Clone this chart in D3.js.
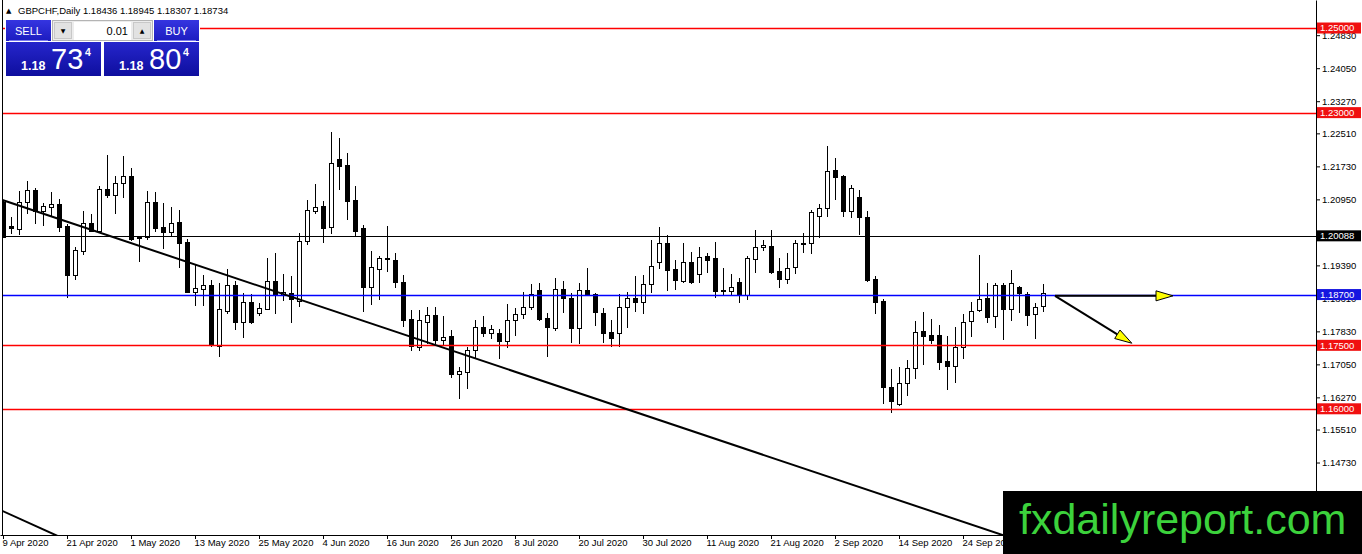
<!DOCTYPE html>
<html><head><meta charset="utf-8">
<script src="https://cdn.jsdelivr.net/npm/d3@7"></script>
<style>html,body{margin:0;padding:0;background:#fff;overflow:hidden}</style>
</head><body>
<svg id="c" width="1362" height="554"></svg>
<script>
// ---------------- DATA ----------------
const symbolTitle = "GBPCHF,Daily";
const lastOHLC = ["1.18436", "1.18945", "1.18307", "1.18734"];

const open = [1.2089,1.2032,1.2024,1.2088,1.2117,1.2068,1.2078,1.2084,1.2032,1.1917,
1.1974,1.2038,1.2021,1.2119,1.2106,1.2133,1.2150,1.2006,1.2005,1.2088,
1.2029,1.2019,1.2041,1.1994,1.1877,1.1882,1.1893,1.1749,1.1831,1.1893,
1.1804,1.1852,1.1826,1.1837,1.1901,1.1870,1.1874,1.1854,1.1996,1.2068,
1.2079,1.2029,1.2190,1.2176,1.2094,1.2028,1.1889,1.1930,1.1957,1.1952,
1.1900,1.1812,1.1747,1.1806,1.1822,1.1763,1.1772,1.1682,1.1688,1.1739,
1.1793,1.1778,1.1778,1.1761,1.1811,1.1823,1.1841,1.1881,1.1814,1.1792,
1.1882,1.1861,1.1792,1.1881,1.1871,1.1826,1.1781,1.1780,1.1841,1.1861,
1.1852,1.1894,1.1947,1.1991,1.1930,1.1903,1.1947,1.1918,1.1961,1.1956,
1.1881,1.1879,1.1900,1.1869,1.1955,1.1982,1.1985,1.1926,1.1906,1.1934,
1.1990,1.1991,1.2056,1.2074,1.2164,1.2150,1.2068,1.2101,1.2053,1.1906,
1.1855,1.1651,1.1611,1.1660,1.1696,1.1784,1.1775,1.1775,1.1713,1.1702,
1.1747,1.1807,1.1833,1.1861,1.1820,1.1892,1.1835,1.1888,1.1871,1.1823,
1.18436];
const high = [1.2093,1.2053,1.2115,1.2138,1.2122,1.2086,1.2112,1.2095,1.2037,1.1982,
1.2067,1.2060,1.2127,1.2201,1.2150,1.2198,1.2169,1.2009,1.2115,1.2112,
1.2086,1.2076,1.2070,1.2001,1.1940,1.1916,1.1904,1.1897,1.1930,1.1903,
1.1873,1.1871,1.1851,1.1956,1.1968,1.1919,1.1915,1.2016,1.2093,1.2131,
1.2091,1.2254,1.2240,1.2204,1.2127,1.2034,1.1973,1.1961,1.2032,1.1968,
1.1916,1.1834,1.1834,1.1841,1.1841,1.1819,1.1786,1.1699,1.1747,1.1810,
1.1819,1.1798,1.1788,1.1847,1.1838,1.1877,1.1895,1.1898,1.1826,1.1908,
1.1902,1.1873,1.1897,1.1932,1.1873,1.1838,1.1811,1.1871,1.1877,1.1914,
1.1916,1.1999,1.2029,1.2011,1.1952,1.1993,1.1970,1.1982,1.1968,1.1994,
1.1932,1.1919,1.1908,1.1961,1.2023,1.1999,1.2023,1.1956,1.1968,1.1999,
1.2015,1.2070,1.2084,1.2220,1.2192,1.2153,1.2129,1.2117,1.2067,1.1914,
1.1859,1.1693,1.1698,1.1715,1.1807,1.1829,1.1812,1.1798,1.1771,1.1793,
1.1824,1.1853,1.1964,1.1897,1.1898,1.1898,1.1928,1.1890,1.1877,1.1851,
1.18945];
const low = [1.2006,1.2016,1.2012,1.2062,1.2040,1.2035,1.2058,1.2021,1.1865,1.1906,
1.1966,1.2020,1.2020,1.2100,1.2063,1.2101,1.1999,1.1950,1.2002,1.2021,
1.1981,1.2008,1.1936,1.1875,1.1845,1.1845,1.1748,1.1725,1.1827,1.1789,
1.1769,1.1803,1.1822,1.1835,1.1827,1.1857,1.1806,1.1843,1.1989,1.2063,
1.1995,1.2015,1.2120,1.2048,1.2008,1.1832,1.1848,1.1859,1.1926,1.1887,
1.1796,1.1739,1.1739,1.1756,1.1756,1.1753,1.1676,1.1625,1.1650,1.1719,
1.1772,1.1767,1.1721,1.1745,1.1774,1.1814,1.1835,1.1810,1.1725,1.1786,
1.1829,1.1759,1.1755,1.1869,1.1798,1.1759,1.1748,1.1748,1.1793,1.1831,
1.1826,1.1877,1.1932,1.1881,1.1882,1.1900,1.1898,1.1900,1.1924,1.1865,
1.1869,1.1869,1.1852,1.1859,1.1924,1.1975,1.1922,1.1887,1.1898,1.1922,
1.1971,1.1969,1.2005,1.2056,1.2097,1.2056,1.2053,1.2013,1.1903,1.1826,
1.1613,1.1593,1.1608,1.1633,1.1672,1.1707,1.1755,1.1694,1.1647,1.1664,
1.1719,1.1773,1.1832,1.1805,1.1793,1.1765,1.1811,1.1829,1.1797,1.1768,
1.18307];
const close = [1.2007,1.2027,1.2088,1.2117,1.2068,1.2079,1.2084,1.2030,1.1917,1.1975,
1.2038,1.2021,1.2119,1.2106,1.2133,1.2150,1.2001,1.2004,1.2088,1.2028,
1.2019,1.2038,1.1993,1.1876,1.1885,1.1892,1.1751,1.1835,1.1892,1.1804,
1.1852,1.1805,1.1838,1.1901,1.1871,1.1876,1.1859,1.1996,1.2070,1.2076,
1.2028,1.2182,1.2175,1.2092,1.2021,1.1889,1.1936,1.1957,1.1953,1.1900,
1.1810,1.1748,1.1810,1.1822,1.1763,1.1769,1.1682,1.1690,1.1739,1.1793,
1.1778,1.1788,1.1761,1.1811,1.1823,1.1841,1.1871,1.1813,1.1794,1.1882,
1.1863,1.1790,1.1881,1.1871,1.1828,1.1780,1.1768,1.1841,1.1861,1.1852,
1.1894,1.1937,1.1991,1.1928,1.1904,1.1947,1.1899,1.1959,1.1952,1.1879,
1.1878,1.1887,1.1869,1.1956,1.1982,1.1987,1.1923,1.1906,1.1932,1.1991,
1.1992,1.2064,1.2074,1.2163,1.2149,1.2068,1.2121,1.2053,1.1904,1.1853,
1.1651,1.1619,1.1660,1.1696,1.1782,1.1773,1.1763,1.1711,1.1702,1.1747,
1.1804,1.1831,1.1859,1.1818,1.1892,1.1835,1.1897,1.1873,1.1821,1.1841,
1.18734];

const dateLabels = ["9 Apr 2020","21 Apr 2020","1 May 2020","13 May 2020","25 May 2020",
  "4 Jun 2020","16 Jun 2020","26 Jun 2020","8 Jul 2020","20 Jul 2020","30 Jul 2020",
  "11 Aug 2020","21 Aug 2020","2 Sep 2020","14 Sep 2020","24 Sep 2020"];
const barsPerDateLabel = 8;

const priceTicks = [1.2483,1.2405,1.2327,1.2251,1.2173,1.2095,1.1939,1.1861,1.1783,1.1705,1.1627,1.1551,1.1473];

const levelPrices = [1.25, 1.23, 1.20088, 1.187, 1.175, 1.16];
const levelColors = ["#ff0000","#ff0000","#000000","#0000ff","#ff0000","#ff0000"];
const levelBoxColors = ["#f01010","#f01010","#000000","#1515e0","#f01010","#f01010"];

// trend lines: [barIndex, price] anchors
const trendMain = [[0, 1.2093], [120, 1.1333]];
const trendLower = [[0, 1.1358], [7, 1.1298]];
// arrows: start / end in [barIndex, price]
const arrowStart = [131.5, 1.1867];
const arrowEnds = [[146.25, 1.1867], [141.1, 1.1755]];

const sellQuote = ["1.18", "73", "4"];
const buyQuote = ["1.18", "80", "4"];
const lotSize = "0.01";
const watermark = "fxdailyreport.com";

// ---------------- CHART ----------------
const svg = d3.select("#c");
const W = 1362, H = 554, plotR = 1316, plotB = 535;
const x = d3.scaleLinear().domain([-0.375, 164.125]).range([0, plotR]);
const y = d3.scaleLinear().domain([1.13017, 1.25662]).range([plotB, 0]);

svg.append("rect").attr("width", W).attr("height", H).attr("fill", "#fff");
const defs = svg.append("defs");
defs.append("clipPath").attr("id", "plot").append("rect")
  .attr("x", 2).attr("y", 0).attr("width", plotR - 2).attr("height", plotB);

const plot = svg.append("g").attr("clip-path", "url(#plot)");

// candles
const bars = open.map((o, i) => ({i, o, h: high[i], l: low[i], c: close[i]}));
const cg = plot.append("g").attr("shape-rendering", "crispEdges");
bars.forEach(b => {
  const cx = Math.round(x(b.i));
  const yh = Math.round(y(b.h)), yl = Math.round(y(b.l));
  const yt = Math.round(y(Math.max(b.o, b.c))), yb = Math.round(y(Math.min(b.o, b.c)));
  const bull = b.c >= b.o;
  cg.append("line").attr("x1", cx + 0.5).attr("x2", cx + 0.5)
    .attr("y1", yh).attr("y2", yl + 1).attr("stroke", "#000").attr("stroke-width", 1);
  if (yb - yt < 1) {
    cg.append("line").attr("x1", cx - 2).attr("x2", cx + 3)
      .attr("y1", yt + 0.5).attr("y2", yt + 0.5).attr("stroke", "#000");
  } else {
    cg.append("rect").attr("x", cx - 1.5).attr("y", yt + 0.5)
      .attr("width", 4).attr("height", yb - yt)
      .attr("fill", bull ? "#fff" : "#000").attr("stroke", "#000").attr("stroke-width", 1);
  }
});

// horizontal levels
levelPrices.forEach((p, k) => {
  const yy = Math.round(y(p)) + 0.5;
  plot.append("line").attr("x1", 2).attr("x2", plotR).attr("y1", yy).attr("y2", yy)
    .attr("stroke", levelColors[k]).attr("stroke-width", levelColors[k] === "#000000" ? 1 : 1.6);
});

// trend lines (extended across the plot)
function drawTrend(a) {
  const slope = (a[1][1] - a[0][1]) / (a[1][0] - a[0][0]);
  const i0 = x.domain()[0], i1 = x.domain()[1];
  const p0 = a[0][1] + slope * (i0 - a[0][0]);
  const p1 = a[0][1] + slope * (i1 - a[0][0]);
  plot.append("line").attr("x1", x(i0)).attr("y1", y(p0)).attr("x2", x(i1)).attr("y2", y(p1))
    .attr("stroke", "#000").attr("stroke-width", 2);
}
drawTrend(trendMain);
drawTrend(trendLower);

// arrows
arrowEnds.forEach(e => {
  const x0 = x(arrowStart[0]), y0 = y(arrowStart[1]);
  const x1 = x(e[0]), y1 = y(e[1]);
  const ang = Math.atan2(y1 - y0, x1 - x0);
  const len = 17, hw = 5;
  const bx = x1 - len * Math.cos(ang), by = y1 - len * Math.sin(ang);
  plot.append("line").attr("x1", x0).attr("y1", y0).attr("x2", bx).attr("y2", by)
    .attr("stroke", "#000").attr("stroke-width", 2);
  const px = -Math.sin(ang) * hw, py = Math.cos(ang) * hw;
  plot.append("polygon")
    .attr("points", [[x1, y1], [bx + px, by + py], [bx - px, by - py]].map(d => d.join(",")).join(" "))
    .attr("fill", "#ffff00").attr("stroke", "#000").attr("stroke-width", 1);
});

// frame
svg.append("line").attr("x1", 2.5).attr("x2", 2.5).attr("y1", 0).attr("y2", plotB)
  .attr("stroke", "#000").attr("shape-rendering", "crispEdges");

// bottom axis
const tickIdx = dateLabels.map((d, k) => k * barsPerDateLabel);
const xAxis = d3.axisBottom(x).tickValues(tickIdx)
  .tickFormat((d, k) => dateLabels[k]).tickSize(4).tickSizeOuter(0);
const gx = svg.append("g").attr("transform", `translate(0,${plotB})`).call(xAxis);
gx.select(".domain").attr("stroke", "#000");
gx.selectAll(".tick line").attr("stroke", "#000");
gx.selectAll(".tick text").attr("text-anchor", "start").attr("x", -1).attr("y", 4).attr("dy", "0.71em")
  .attr("fill", "#000").style("font", "9.5px 'Liberation Sans', Arial, sans-serif");

// right axis
const yAxis = d3.axisRight(y).tickValues(priceTicks).tickFormat(d3.format(".5f"))
  .tickSize(4).tickSizeOuter(0);
const gy = svg.append("g").attr("transform", `translate(${plotR},0)`).call(yAxis);
gy.select(".domain").attr("stroke", "#000");
gy.selectAll(".tick line").attr("stroke", "#000");
gy.selectAll(".tick text").attr("x", 6).attr("fill", "#000")
  .style("font", "9.5px 'Liberation Sans', Arial, sans-serif");

// level price boxes
levelPrices.forEach((p, k) => {
  const yy = y(p);
  svg.append("rect").attr("x", plotR + 1).attr("y", yy - 5.5).attr("width", 44).attr("height", 11)
    .attr("fill", levelBoxColors[k]);
  svg.append("text").attr("x", plotR + 4).attr("y", yy).attr("dy", "0.35em")
    .attr("fill", "#fff").style("font", "9.5px 'Liberation Sans', Arial, sans-serif")
    .text(d3.format(".5f")(p));
});

// header
svg.append("text").attr("x", 6).attr("y", 13).attr("fill", "#000")
  .style("font", "7px 'DejaVu Sans', sans-serif").text("▲");
svg.append("text").attr("x", 18).attr("y", 14).attr("fill", "#000")
  .style("font", "9.5px 'Liberation Sans', Arial, sans-serif")
  .text(symbolTitle + "  " + lastOHLC.join(" "));

// one-click trading panel
const g1 = defs.append("linearGradient").attr("id", "btn").attr("x1", 0).attr("x2", 0).attr("y1", 0).attr("y2", 1);
g1.append("stop").attr("offset", 0).attr("stop-color", "#3535e0");
g1.append("stop").attr("offset", 1).attr("stop-color", "#1c1cc0");
const g2 = defs.append("linearGradient").attr("id", "pan").attr("x1", 0).attr("x2", 0).attr("y1", 0).attr("y2", 1);
g2.append("stop").attr("offset", 0).attr("stop-color", "#2626cc");
g2.append("stop").attr("offset", 1).attr("stop-color", "#0e0e9e");

const panel = svg.append("g").attr("shape-rendering", "crispEdges");
const fnt = "'Liberation Sans', Arial, sans-serif";
panel.append("rect").attr("x", 5).attr("y", 19).attr("width", 195).attr("height", 58).attr("fill", "#fff");
function btn(x0, label) {
  panel.append("rect").attr("x", x0).attr("y", 20).attr("width", 45).attr("height", 21).attr("fill", "url(#btn)");
  panel.append("line").attr("x1", x0 + 3).attr("x2", x0 + 42).attr("y1", 40.5).attr("y2", 40.5).attr("stroke", "#7a7af0");
  svg.append("text").attr("x", x0 + 22.5).attr("y", 35).attr("text-anchor", "middle").attr("fill", "#fff")
    .style("font", `11px ${fnt}`).text(label);
}
btn(6, "SELL");
btn(154, "BUY");
panel.append("rect").attr("x", 52.5).attr("y", 20.5).attr("width", 100).attr("height", 20)
  .attr("fill", "#ececec").attr("stroke", "#b4b4b4");
panel.append("rect").attr("x", 54.5).attr("y", 22.5).attr("width", 17).attr("height", 16)
  .attr("fill", "#e2e2e2").attr("stroke", "#c8c8c8");
panel.append("rect").attr("x", 73.5).attr("y", 21.5).attr("width", 57).attr("height", 18)
  .attr("fill", "#fff");
panel.append("rect").attr("x", 133.5).attr("y", 22.5).attr("width", 17).attr("height", 16)
  .attr("fill", "#e2e2e2").attr("stroke", "#c8c8c8");
svg.append("text").attr("x", 63).attr("y", 33).attr("text-anchor", "middle").style("font", "6px 'DejaVu Sans'").text("▼");
svg.append("text").attr("x", 142).attr("y", 33).attr("text-anchor", "middle").style("font", "6px 'DejaVu Sans'").text("▲");
svg.append("text").attr("x", 128).attr("y", 35).attr("text-anchor", "end").attr("fill", "#000")
  .style("font", `11px ${fnt}`).text(lotSize);

function quote(x0, q) {
  panel.append("rect").attr("x", x0).attr("y", 42).attr("width", 95).attr("height", 34).attr("fill", "url(#pan)");
  svg.append("text").attr("x", x0 + 15).attr("y", 70).attr("fill", "#fff")
    .style("font", `bold 12.5px ${fnt}`).text(q[0]);
  svg.append("text").attr("x", x0 + 45).attr("y", 68.5).attr("fill", "#fff")
    .style("font", `29px ${fnt}`).text(q[1]);
  svg.append("text").attr("x", x0 + 79).attr("y", 56).attr("fill", "#fff")
    .style("font", `bold 10.5px ${fnt}`).text(q[2]);
}
quote(6, sellQuote);
quote(104, buyQuote);

// watermark
svg.append("rect").attr("x", 1003).attr("y", 491).attr("width", W - 1003).attr("height", H - 491).attr("fill", "#000");
svg.append("text").attr("x", 1019).attr("y", 534).attr("fill", "#3cd23c")
  .style("font", `43px ${fnt}`).text(watermark);
</script>
</body></html>
